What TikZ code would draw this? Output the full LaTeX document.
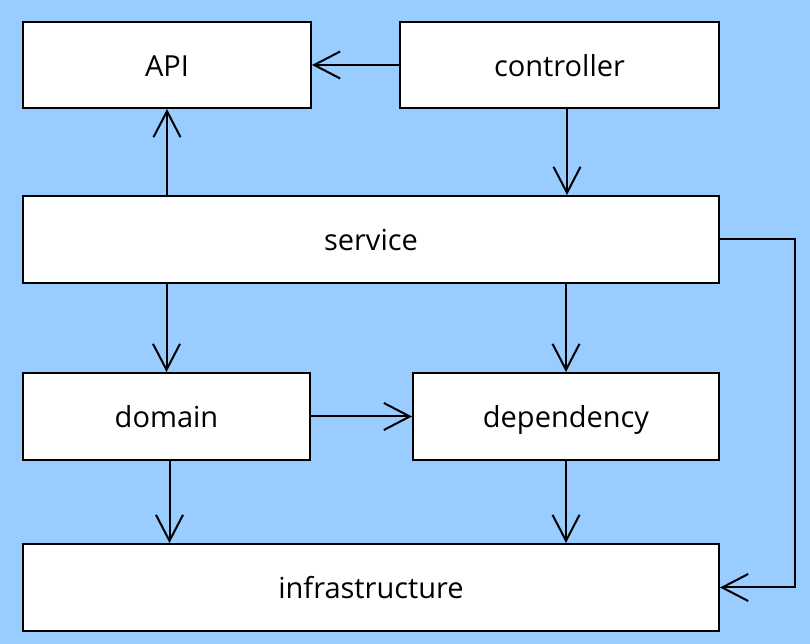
\documentclass[tikz,border=0pt]{standalone}
\usepackage{fontspec}
\setmainfont{Open Sans}
\usetikzlibrary{arrows.meta}
\definecolor{bgblue}{HTML}{99CCFF}
\begin{document}
\begin{tikzpicture}[x=1pt,y=1pt,
  layer/.style={draw=black, fill=white, line width=2pt, inner sep=0pt,
    text height=30pt, text depth=7pt,
    font=\fontsize{29}{34}\selectfont, text=black},
  dep/.style={draw=black, line width=2pt,
    -{Straight Barb[length=26pt,width=27pt,line width=2pt]}}]
\fill[bgblue] (0,0) rectangle (810,644);
\useasboundingbox (0,0) rectangle (810,644);
\node[layer, minimum width=288pt, minimum height=86pt] (api) at (167,579) {API};
\node[layer, minimum width=319pt, minimum height=86pt] (controller) at (559.5,579) {controller};
\node[layer, minimum width=696pt, minimum height=87pt] (service) at (371,404.5) {service};
\node[layer, minimum width=287pt, minimum height=87pt] (domain) at (166.5,227.5) {domain};
\node[layer, minimum width=306pt, minimum height=87pt] (dependency) at (566,227.5) {dependency};
\node[layer, minimum width=696pt, minimum height=87pt] (infra) at (371,56.5) {infrastructure};

\draw[dep] (controller.west) -- (api.east);
\draw[dep] ([xshift=7.5pt]controller.south) -- ([xshift=7.5pt]controller.south |- service.north);
\draw[dep] (service.north -| api.south) -- (api.south);
\draw[dep] (service.south -| domain.north) -- (domain.north);
\draw[dep] (service.south -| dependency.north) -- (dependency.north);
\draw[dep] (domain.east) -- (dependency.west);
\draw[dep] ([xshift=3pt]domain.south) -- ([xshift=3pt]domain.south |- infra.north);
\draw[dep] (dependency.south) -- (dependency.south |- infra.north);
\draw[dep] (service.east) -- ++(75,0) |- (infra.east);
\end{tikzpicture}
\end{document}
